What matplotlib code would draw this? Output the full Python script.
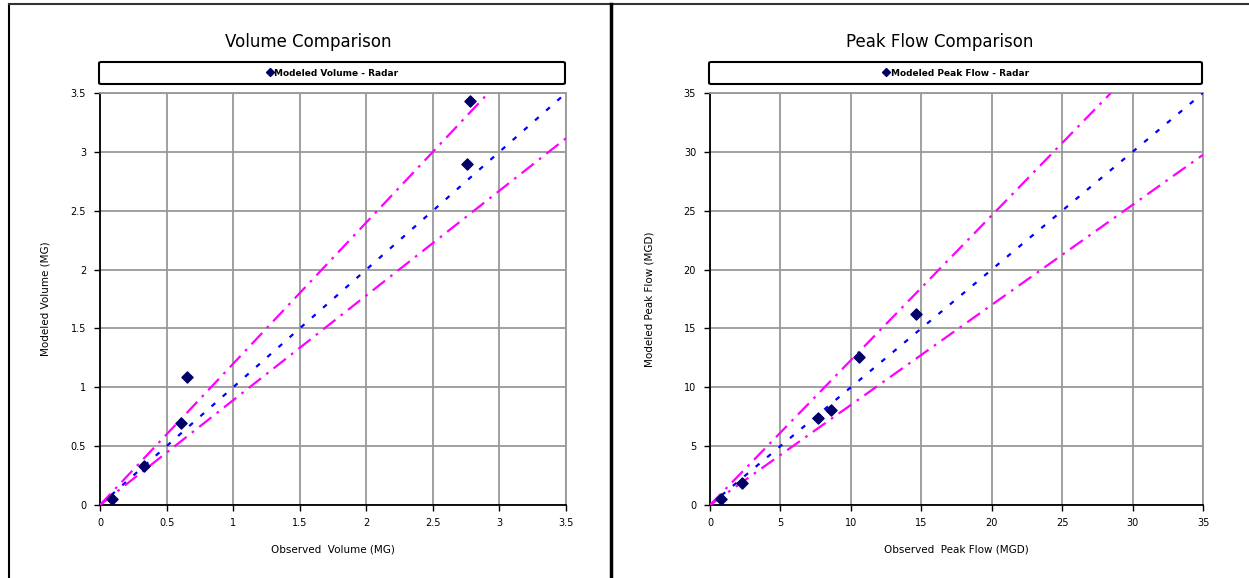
import matplotlib
matplotlib.use("Agg")
import matplotlib.pyplot as plt
from matplotlib.patches import FancyBboxPatch
from matplotlib.lines import Line2D

# ---- data ----
vol_obs = [0.09, 0.33, 0.61, 0.65, 2.76, 2.78]
vol_mod = [0.05, 0.33, 0.70, 1.09, 2.90, 3.43]
vol_ticks = [0, 0.5, 1, 1.5, 2, 2.5, 3, 3.5]
vol_ticklabels = ["0", "0.5", "1", "1.5", "2", "2.5", "3", "3.5"]

peak_obs = [0.8, 2.3, 7.65, 8.6, 10.6, 14.6]
peak_mod = [0.5, 1.9, 7.4, 8.1, 12.6, 16.2]
peak_ticks = [0, 5, 10, 15, 20, 25, 30, 35]
peak_ticklabels = ["0", "5", "10", "15", "20", "25", "30", "35"]

vol_upper_slope, vol_lower_slope = 1.2, 0.89
peak_upper_slope, peak_lower_slope = 1.23, 0.85

W, H = 1249, 578
fig = plt.figure(figsize=(W / 100, H / 100), dpi=100)
fig.patch.set_facecolor("white")

def fx(px):
    return px / W

def fy(py):
    return 1 - py / H

# outer frame lines
fig.add_artist(Line2D([fx(9), fx(9)], [fy(4), 0], color="black", lw=1.5, transform=fig.transFigure))
fig.add_artist(Line2D([fx(9), 1], [fy(4), fy(4)], color="#333333", lw=1.5, transform=fig.transFigure))
fig.add_artist(Line2D([fx(611), fx(611)], [fy(4), 0], color="black", lw=2.5, transform=fig.transFigure))

navy = "#000066"
magenta = "#FF00FF"
blue = "#0000FF"


def make_panel(left_px, right_px, title, legend_label, xlabel, ylabel,
               xs, ys, ticks, ticklabels, vmax, up, lo, title_x, ylab_x):
    ax = fig.add_axes([fx(left_px), fy(505), fx(right_px) - fx(left_px), fy(93) - fy(505)])
    ax.set_xlim(0, vmax)
    ax.set_ylim(0, vmax)
    ax.set_xticks(ticks)
    ax.set_yticks(ticks)
    ax.set_xticklabels(ticklabels, fontsize=7)
    ax.set_yticklabels(ticklabels, fontsize=7)
    ax.grid(True, color="#999999", lw=1.3)
    ax.set_axisbelow(True)
    for s in ["top", "right"]:
        ax.spines[s].set_color("#999999")
        ax.spines[s].set_linewidth(1.3)
    for s in ["left", "bottom"]:
        ax.spines[s].set_color("black")
        ax.spines[s].set_linewidth(1.3)
    ax.tick_params(direction="out", length=4, width=1)
    ax.tick_params(axis="x", pad=5)
    ax.tick_params(axis="y", pad=6)

    # reference lines
    ax.plot([0, vmax], [0, vmax], color=blue, lw=1.6, ls=(0, (2.2, 4.5)), zorder=3)
    ax.plot([0, vmax / up], [0, vmax], color=magenta, lw=1.6, ls=(0, (7, 3, 1.2, 3)), zorder=3)
    ax.plot([0, vmax], [0, vmax * lo], color=magenta, lw=1.6, ls=(0, (7, 3, 1.2, 3)), zorder=3)

    ax.scatter(xs, ys, marker="D", s=32, color=navy, zorder=5, label=legend_label, clip_on=False)

    ax.set_xlabel(xlabel, fontsize=7.5, labelpad=12)
    ax.set_ylabel(ylabel, fontsize=7.5)
    ax.yaxis.set_label_coords((ylab_x - left_px) / (right_px - left_px), 0.5)

    fig.text(fx(title_x), fy(42), title, fontsize=12, ha="center", va="center")

    # legend box
    bx0, bx1, by0, by1 = left_px - 1, right_px - 1, 62, 84
    box = FancyBboxPatch((fx(bx0), fy(by1)), fx(bx1) - fx(bx0), fy(by0) - fy(by1),
                         boxstyle="round,pad=0,rounding_size=0.002",
                         transform=fig.transFigure, facecolor="white",
                         edgecolor="black", lw=1.5)
    fig.add_artist(box)
    fig.legend(handles=[Line2D([], [], marker="D", ls="none", color=navy, markersize=4.5)],
               labels=[legend_label], loc="center",
               bbox_to_anchor=(fx((bx0 + bx1) / 2), fy((by0 + by1) / 2)),
               frameon=False, handletextpad=0.0, handlelength=1.0,
               borderpad=0, prop={"size": 6.5, "weight": "bold"})
    return ax


make_panel(100, 566, "Volume Comparison", "Modeled Volume - Radar",
           "Observed  Volume (MG)", "Modeled Volume (MG)",
           vol_obs, vol_mod, vol_ticks, vol_ticklabels, 3.5,
           vol_upper_slope, vol_lower_slope, 308, 50)

make_panel(710, 1203, "Peak Flow Comparison", "Modeled Peak Flow - Radar",
           "Observed  Peak Flow (MGD)", "Modeled Peak Flow (MGD)",
           peak_obs, peak_mod, peak_ticks, peak_ticklabels, 35,
           peak_upper_slope, peak_lower_slope, 940, 655)

fig.savefig("out.png", dpi=100, facecolor="white")
